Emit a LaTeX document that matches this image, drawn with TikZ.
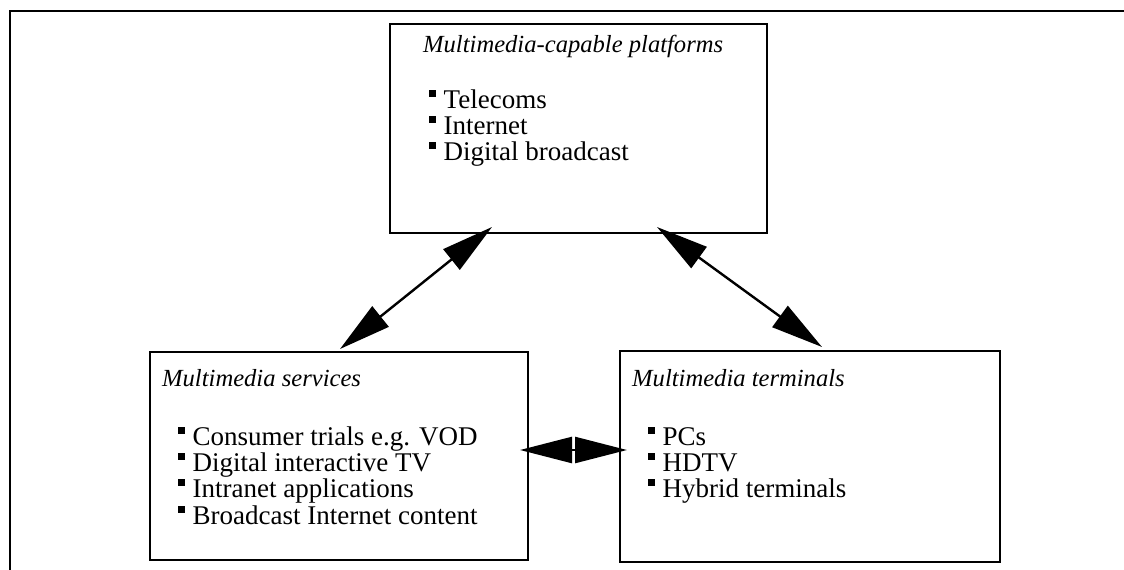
\documentclass[tikz,border=0pt]{standalone}
\usepackage{fontspec}
\setmainfont{Liberation Serif}
\usetikzlibrary{arrows.meta}
% small raised square used as list bullet
\newcommand\sqbullet{\rule[11.5pt]{7pt}{7pt}\hspace{7.5pt}}
\begin{document}
\begin{tikzpicture}[x=1pt,y=-1pt,
  frame/.style={line width=2.6pt},
  box/.style={draw, line width=2.6pt, inner sep=0pt, outer sep=0pt, anchor=north west},
  head/.style={font=\fontsize{24.6}{25}\selectfont\itshape, anchor=base west, inner sep=0pt},
  item/.style={font=\fontsize{27}{27}\selectfont, anchor=base west, inner sep=0pt},
  link/.style={line width=2.4pt, {Triangle[length=52pt,width=26pt]}-{Triangle[length=52pt,width=26pt]}}
]
\useasboundingbox (0,0) rectangle (1124,570);

% open page frame (top and left edges)
\draw[frame] (10,570) -- (10,11) -- (1124,11);

% the three boxes
\node[box, minimum width=377pt, minimum height=209pt] (plat) at (390,24) {};
\node[box, minimum width=378pt, minimum height=208pt] (serv) at (150,352) {};
\node[box, minimum width=380pt, minimum height=211pt] (term) at (620,351) {};

% platforms box text
\node[head] (platH) at ([xshift=33pt,yshift=-28pt]plat.north west) {Multimedia-capable platforms};
\node[item] (plat1) at ([xshift=39pt,yshift=-84pt]plat.north west) {\sqbullet Telecoms};
\node[item] (plat2) at ([xshift=39pt,yshift=-110pt]plat.north west) {\sqbullet Internet};
\node[item] (plat3) at ([xshift=39pt,yshift=-136pt]plat.north west) {\sqbullet Digital broadcast};

% services box text
\node[head] (servH) at ([xshift=12pt,yshift=-34pt]serv.north west) {Multimedia services};
\node[item] (serv1) at ([xshift=28pt,yshift=-93pt]serv.north west) {\sqbullet Consumer trials e.g. VOD};
\node[item] (serv2) at ([xshift=28pt,yshift=-119pt]serv.north west) {\sqbullet Digital interactive TV};
\node[item] (serv3) at ([xshift=28pt,yshift=-145pt]serv.north west) {\sqbullet Intranet applications};
\node[item] (serv4) at ([xshift=28pt,yshift=-172pt]serv.north west) {\sqbullet Broadcast Internet content};

% terminals box text
\node[head] (termH) at ([xshift=12pt,yshift=-35pt]term.north west) {Multimedia terminals};
\node[item] (term1) at ([xshift=28pt,yshift=-94pt]term.north west) {\sqbullet PCs};
\node[item] (term2) at ([xshift=28pt,yshift=-120pt]term.north west) {\sqbullet HDTV};
\node[item] (term3) at ([xshift=28pt,yshift=-146pt]term.north west) {\sqbullet Hybrid terminals};

% two-way links between the boxes
\draw[link] ([xshift=102pt,yshift=6pt]plat.south west) -- ([xshift=190pt,yshift=3pt]serv.north west);
\draw[link] ([xshift=267pt,yshift=6pt]plat.south west) -- ([xshift=202pt,yshift=4pt]term.north west);
\draw[link] ([xshift=-8pt,yshift=6pt]serv.east) -- ([xshift=7pt,yshift=6.5pt]term.west);
\end{tikzpicture}
\end{document}
